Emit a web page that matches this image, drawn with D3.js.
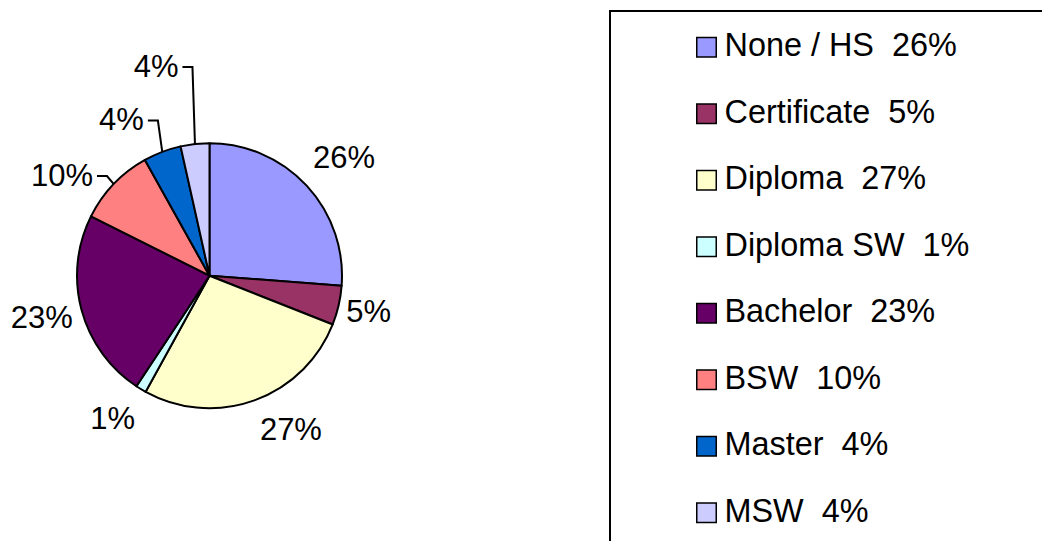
<!DOCTYPE html>
<html>
<head>
<meta charset="utf-8">
<script src="https://cdn.jsdelivr.net/npm/d3@7/dist/d3.min.js"></script>
<style>
  html, body { margin: 0; padding: 0; background: #fff; }
  svg { display: block; }
  text { font-family: "Liberation Sans", Arial, sans-serif; fill: #000; white-space: pre; }
</style>
</head>
<body>
<svg id="chart" width="1042" height="541"></svg>
<script>
// ---- data ----
const categories = ["None / HS", "Certificate", "Diploma", "Diploma SW", "Bachelor", "BSW", "Master", "MSW"];
const values     = [26.2, 4.8, 27.0, 1.3, 23.1, 9.5, 4.6, 3.5];
const pctLabels  = ["26%", "5%", "27%", "1%", "23%", "10%", "4%", "4%"];
const colors     = ["#9999FF", "#993366", "#FFFFCC", "#CCFFFF", "#660066", "#FF8080", "#0066CC", "#CCCCFF"];

// ---- layout (label placement: polar distance of label centre, angle in degrees) ----
const labelPlace = [
  {d: 179.6, a: 48.5,  leader: false},
  {d: 163,   a: 102.5, leader: false},
  {d: 174,   a: 152.1, leader: false},
  {d: 172,   a: 214.3, leader: false},
  {d: 172.7, a: 256.3, leader: false},
  {d: 178.6, a: 304.3, leader: true},
  {d: 179.3, a: 330.6, leader: true},
  {d: 216.4, a: 345.7, leader: true}
];

const W = 1042, H = 541;
const cx = 209.5, cy = 275.7, R = 132.5;
const fontSize = 31;
const legendFontSize = 32.4;

const svg = d3.select("#chart");

// ---- pie ----
const pie = d3.pie().sort(null).value(d => d);
const arcs = pie(values);
const arc = d3.arc().innerRadius(0).outerRadius(R);

const g = svg.append("g").attr("transform", `translate(${cx},${cy})`);
g.selectAll("path.slice")
  .data(arcs)
  .enter().append("path")
  .attr("class", "slice")
  .attr("d", arc)
  .attr("fill", (d, i) => colors[i])
  .attr("stroke", "#000")
  .attr("stroke-width", 2)
  .attr("stroke-linejoin", "round");

// ---- labels ----
const labels = g.selectAll("text.lbl")
  .data(arcs)
  .enter().append("text")
  .attr("class", "lbl")
  .attr("text-anchor", "middle")
  .attr("font-size", fontSize)
  .attr("x", (d, i) => labelPlace[i].d * Math.sin(labelPlace[i].a * Math.PI / 180))
  .attr("y", (d, i) => -labelPlace[i].d * Math.cos(labelPlace[i].a * Math.PI / 180) + 11)
  .text((d, i) => pctLabels[i]);

// leader lines
labels.each(function(d, i) {
  if (!labelPlace[i].leader) return;
  const bb = this.getBBox();
  const lx = bb.x + bb.width;
  const ly = bb.y + bb.height / 2 + 0.5;
  const mid = (d.startAngle + d.endAngle) / 2;
  const ax = R * Math.sin(mid), ay = -R * Math.cos(mid);
  g.append("polyline")
    .attr("points", [[lx + 4, ly], [lx + 14, ly], [ax, ay]].map(p => p.join(",")).join(" "))
    .attr("fill", "none")
    .attr("stroke", "#000")
    .attr("stroke-width", 2);
});

// ---- legend ----
svg.append("rect")
  .attr("x", 610).attr("y", 11)
  .attr("width", 600).attr("height", 700)
  .attr("fill", "none")
  .attr("stroke", "#000")
  .attr("stroke-width", 2);

const legY = d3.scalePoint().domain(d3.range(categories.length)).range([56, 521.5]);
const leg = svg.selectAll("g.leg")
  .data(categories)
  .enter().append("g")
  .attr("class", "leg")
  .attr("transform", (d, i) => `translate(696,${legY(i)})`);
leg.append("rect")
  .attr("x", 0.75).attr("y", -18.5)
  .attr("width", 19.5).attr("height", 19.5)
  .attr("fill", (d, i) => colors[i])
  .attr("stroke", "#000")
  .attr("stroke-width", 1.5);
leg.append("text")
  .attr("x", 28.5)
  .attr("y", 0)
  .attr("font-size", legendFontSize)
  .text((d, i) => d + "  " + pctLabels[i]);
</script>
</body>
</html>
